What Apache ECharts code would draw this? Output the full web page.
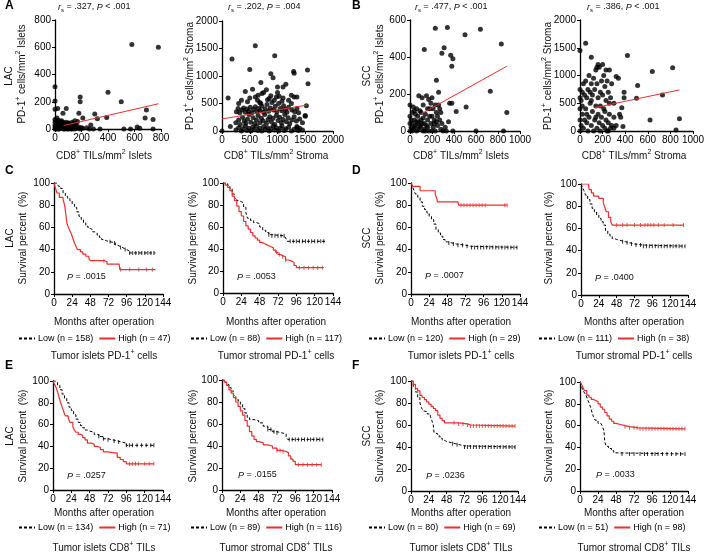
<!DOCTYPE html>
<html><head><meta charset="utf-8">
<script src="https://cdn.jsdelivr.net/npm/echarts@6/dist/echarts.min.js"></script>
<style>html,body{margin:0;padding:0;background:#fff}#c{width:709px;height:553px}</style>
</head><body><div id="c"></div>
<script>
// ---------------- DATA ----------------
// Row 1 scatter plots
const A1_points = [[0,0],[5,10],[10,20],[15,5],[20,30],[25,0],[30,15],[35,40],[40,10],[45,25],[50,5],[55,50],[60,20],[65,0],[70,35],[75,10],[80,25],[85,5],[90,40],[95,15],[100,0],[105,30],[110,10],[115,20],[120,0],[125,35],[130,15],[135,5],[140,25],[145,10],[150,0],[155,20],[160,10],[170,5],[180,15],[190,0],[200,10],[210,5],[0,30],[0,50],[0,70],[5,60],[10,40],[15,80],[20,55],[25,65],[30,45],[40,55],[50,60],[60,45],[70,15],[80,50],[90,20],[100,45],[110,40],[120,25],[130,50],[0,15],[10,0],[20,10],[30,0],[40,30],[50,25],[60,5],[70,0],[80,10],[90,0],[100,15],[110,5],[120,10],[130,0],[140,40],[150,30],[160,35],[0,310],[0,205],[0,145],[20,150],[85,150],[60,115],[180,115],[190,235],[190,200],[210,80],[150,60],[170,55],[270,30],[300,110],[320,75],[400,270],[390,85],[500,200],[580,620],[780,600],[690,140],[680,80],[740,70],[290,0],[340,0],[520,0],[570,0],[620,15],[640,5],[740,0],[240,10],[260,0]];
const A1_fit = [[65,25],[780,185]];
const A2_points = [[0,0],[150,80],[250,20],[300,60],[350,0],[380,40],[420,90],[450,10],[480,50],[520,0],[550,70],[580,30],[620,90],[650,10],[680,50],[720,0],[750,80],[780,30],[820,60],[850,0],[880,40],[920,90],[950,20],[980,60],[1020,0],[1050,50],[1080,90],[1120,10],[1150,40],[1200,70],[1250,0],[1300,30],[1350,60],[1380,10],[1450,20],[250,150],[300,200],[330,120],[370,250],[400,180],[430,140],[460,220],[490,300],[520,160],[560,240],[590,130],[620,200],[650,280],[680,150],[710,230],[740,180],[770,300],[800,140],[830,210],[860,260],[890,170],[920,230],[950,120],[980,280],[1010,190],[1040,250],[1070,150],[1100,210],[1130,300],[1160,170],[1190,240],[1220,130],[1260,200],[1300,260],[1340,180],[1400,220],[1450,150],[1500,270],[260,350],[290,410],[320,330],[360,380],[390,420],[420,340],[450,400],[480,360],[510,430],[540,330],[570,390],[600,440],[630,350],[660,410],[690,370],[720,450],[750,340],[780,400],[810,480],[840,360],[870,420],[900,520],[930,380],[960,450],[990,350],[1020,500],[1050,410],[1080,370],[1110,460],[1140,390],[1170,340],[1200,430],[1260,380],[1310,350],[1350,410],[1380,330],[1520,460],[1500,280],[300,500],[350,560],[420,720],[460,530],[500,600],[550,760],[600,620],[640,560],[680,520],[720,680],[750,700],[800,750],[850,590],[880,640],[940,560],[980,620],[1030,630],[1080,540],[1100,800],[1150,850],[1000,800],[1200,560],[1250,650],[1300,620],[1350,620],[110,600],[700,880],[880,1040],[920,970],[500,1120],[180,1310],[600,1550],[950,1370],[1290,1080],[1300,1050],[1540,1110],[1550,860],[1250,500],[1100,600],[650,650],[820,570],[1000,700],[700,500],[1350,80],[1400,50]];
const A2_fit = [[0,220],[1530,470]];
const B1_points = [[0,0],[10,20],[20,40],[30,10],[40,60],[50,30],[60,0],[70,80],[80,50],[90,20],[100,100],[110,40],[120,70],[130,10],[140,90],[150,30],[160,60],[170,0],[180,120],[190,40],[200,80],[210,20],[220,60],[230,0],[240,100],[250,30],[260,140],[270,60],[280,10],[290,40],[300,0],[0,80],[0,140],[10,60],[20,100],[30,130],[40,20],[50,90],[60,120],[70,40],[80,190],[90,110],[100,60],[110,180],[120,140],[130,40],[140,0],[150,190],[160,120],[170,170],[180,80],[190,150],[200,180],[210,120],[220,40],[230,140],[250,80],[270,120],[0,40],[20,0],[40,110],[60,50],[80,10],[100,30],[120,0],[160,20],[200,0],[240,50],[280,100],[320,20],[350,50],[360,150],[330,0],[130,440],[230,555],[340,560],[500,520],[640,550],[310,450],[290,420],[370,410],[390,390],[380,350],[830,470],[730,215],[880,100],[510,130],[420,105],[380,150],[240,275],[260,210],[600,0],[850,0],[390,0]];
const B1_fit = [[106,94],[880,350]];
const B2_points = [[0,0],[10,100],[20,300],[30,50],[40,200],[50,400],[60,150],[70,0],[80,250],[90,500],[100,100],[110,350],[120,0],[130,200],[140,450],[150,50],[160,300],[170,150],[180,0],[190,250],[200,100],[210,400],[220,50],[230,200],[240,0],[250,150],[260,300],[280,100],[300,50],[0,400],[0,600],[0,750],[10,550],[20,700],[30,850],[40,650],[50,900],[60,600],[70,750],[80,1000],[90,700],[100,850],[110,650],[120,950],[130,750],[140,1100],[150,850],[160,600],[170,1150],[180,700],[190,900],[200,650],[210,1000],[220,800],[230,550],[240,900],[250,700],[260,1100],[270,600],[280,850],[300,500],[320,980],[340,950],[350,300],[360,250],[370,420],[380,80],[390,600],[390,700],[0,1450],[50,1580],[100,1330],[200,1200],[160,1200],[420,1360],[820,1140],[640,1070],[510,820],[730,650],[500,590],[620,200],[850,20],[880,220],[150,1150],[230,1100],[0,200],[20,450],[60,300],[100,550],[140,250],[180,450],[220,350],[260,500],[300,250],[320,100],[250,0],[270,50]];
const B2_fit = [[130,420],[880,740]];

// Kaplan-Meier curves [months, survival %]
const C1_low = [[0,100],[4,99],[6,97],[9,95],[12,91],[15,88],[18,86],[21,84],[24,81],[27,78],[30,74],[33,70],[36,67],[39,64],[42,61],[45,59],[48,58],[51,56],[54,55],[57,53],[60,51],[63,49],[66,48],[69,47],[75,46],[81,44],[84,43],[87,42],[90,41],[93,40],[96,39],[99,37],[134,37]];
const C1_high = [[0,100],[2,95],[4,91],[7,87],[12,85],[14,80],[15,75],[16,70],[17,64],[19,60],[21,57],[23,54],[25,50],[27,46],[29,43],[31,40],[35,38],[38,36],[42,34],[46,32],[48,30],[64,30],[67,29],[70,27],[86,27],[87,22],[134,22]];
const C2_low = [[0,100],[6,98],[9,95],[12,90],[15,86],[18,84],[21,83],[24,82],[27,78],[30,73],[32,68],[36,66],[40,64],[44,63],[48,60],[52,57],[56,55],[60,53],[64,52],[80,52],[82,50],[84,47],[134,47]];
const C2_high = [[0,100],[3,98],[6,96],[9,93],[12,88],[15,84],[18,79],[21,74],[24,70],[27,65],[30,61],[33,58],[36,55],[39,52],[42,50],[45,48],[48,46],[51,45],[54,44],[57,43],[60,42],[63,41],[66,39],[69,37],[72,35],[75,34],[78,33],[82,30],[86,29],[90,28],[93,25],[96,23],[132,23]];
const D1_low = [[0,100],[2,97],[4,93],[6,90],[9,87],[12,83],[15,79],[18,76],[21,73],[24,70],[27,67],[30,63],[33,58],[36,55],[39,52],[42,49],[45,47],[48,46],[54,45],[60,44],[72,43],[78,42],[140,42]];
const D1_high = [[0,100],[2,97],[12,93],[32,90],[34,86],[35,83],[62,83],[63,80],[127,80]];
const D2_low = [[0,100],[2,97],[4,94],[6,90],[9,86],[12,82],[15,78],[18,75],[21,72],[24,69],[27,66],[30,63],[33,58],[36,55],[39,53],[42,51],[45,50],[48,49],[54,48],[60,47],[66,46],[72,45],[84,44],[140,44]];
const D2_high = [[0,100],[10,100],[11,95],[14,92],[17,89],[24,87],[30,83],[32,79],[34,75],[37,70],[40,66],[42,63],[138,63]];
const E1_low = [[0,100],[3,99],[6,96],[9,92],[12,88],[15,84],[18,80],[21,76],[24,73],[27,69],[30,65],[33,62],[36,59],[39,57],[42,55],[45,54],[48,53],[54,51],[60,49],[66,47],[72,46],[78,45],[84,44],[90,43],[96,41],[132,41]];
const E1_high = [[0,100],[2,97],[4,94],[6,90],[8,85],[10,80],[12,76],[14,72],[16,68],[20,66],[22,62],[26,58],[28,55],[30,53],[33,51],[36,50],[39,48],[42,46],[45,43],[50,42],[54,40],[58,39],[62,37],[66,35],[72,34],[80,34],[84,30],[88,28],[92,26],[96,24],[132,24]];
const E2_low = [[0,100],[3,98],[6,96],[9,93],[12,90],[15,86],[18,83],[21,81],[24,78],[27,74],[30,70],[33,66],[36,64],[42,63],[48,61],[54,58],[60,55],[66,53],[72,52],[78,51],[84,48],[86,46],[132,46]];
const E2_high = [[0,100],[3,98],[6,95],[9,91],[12,88],[15,84],[18,80],[21,76],[24,72],[27,68],[30,63],[33,58],[36,53],[39,49],[42,46],[45,44],[48,43],[54,41],[60,40],[66,38],[72,36],[78,35],[84,34],[87,31],[90,28],[93,26],[96,23],[130,23]];
const F1_low = [[0,100],[3,95],[6,90],[9,85],[12,80],[14,76],[16,73],[18,72],[22,70],[26,68],[28,64],[30,60],[31,53],[33,52],[36,50],[39,48],[42,46],[45,45],[48,44],[54,43],[60,42],[66,41],[72,40],[140,40]];
const F1_high = [[0,100],[3,97],[6,93],[9,91],[12,87],[15,85],[18,83],[21,81],[24,79],[27,77],[30,75],[33,73],[36,69],[39,66],[42,64],[45,62],[60,62],[64,61],[76,60],[80,59],[140,59]];
const F2_low = [[0,100],[2,96],[4,92],[6,90],[8,88],[10,84],[12,81],[14,77],[16,72],[18,68],[20,65],[24,62],[28,61],[30,59],[32,55],[33,45],[35,41],[38,39],[42,37],[45,35],[48,34],[140,34]];
const F2_high = [[0,100],[2,98],[4,95],[6,92],[9,88],[12,86],[15,84],[18,83],[21,82],[24,80],[27,77],[30,75],[33,72],[36,69],[39,66],[42,64],[45,62],[48,61],[54,60],[60,59],[66,58],[78,57],[140,57]];
// censoring times (months)
const C1_lowC = [74,80,88,94,100,104,108,112,116,120,124,128,132];
const C1_highC = [66,88,100,112,122,130];
const C2_lowC = [60,64,68,72,76,80,88,92,96,100,104,108,112,116,120,124,128,132];
const C2_highC = [70,74,78,82,100,106,112,118,124,130];
const D1_lowC = [50,56,62,68,74,80,84,88,92,96,100,104,108,112,116,120,124,128,132,136,140];
const D1_highC = [66,70,74,78,82,86,90,94,98,124,127];
const D2_lowC = [56,62,68,74,80,84,88,92,96,100,104,108,112,116,120,124,128,132,136,140];
const D2_highC = [48,56,62,72,80,86,90,94,98,104,112,124,138];
const E1_lowC = [60,66,72,80,86,96,100,104,110,116,122,128,132];
const E1_highC = [100,104,108,112,120,126,132];
const E2_lowC = [60,64,68,72,88,92,96,100,104,108,112,116,120,124,128,132];
const E2_highC = [72,76,80,100,106,112,118,124,130];
const F1_lowC = [56,62,72,76,80,84,88,92,96,100,104,108,112,116,120,124,128,132,136,140];
const F1_highC = [58,64,70,76,80,84,88,92,96,100,104,108,112,116,120,124,128,132,136,140];
const F2_lowC = [56,66,72,80,86,90,96,100,104,110,116,122,128,134,140];
const F2_highC = [60,66,72,76,80,84,88,92,96,100,104,108,112,116,120,124,128,132,136,140];

const lowN = [158,88,120,111,134,89,80,51];
const highN = [47,117,29,38,71,116,69,98];
const pValues = ['.0015','.0053','.0007','.0400','.0257','.0155','.0236','.0033'];
const corrStats = [['.327','<','.001'],['.202','=','.004'],['.477','<','.001'],['.386','<','.001']];
const kmTicks = {min:0, max:144, interval:24};
const survTicks = {min:0, max:100, interval:20};

// ---------------- LAYOUT ----------------
const FONT = '"Liberation Sans", Arial, sans-serif';
const RED = '#e8312f';
const grids = [
 [55,20,106,109],[222,21,111,110],[410,20,110,111],[580,20,113,111],
 [54,183,109,111],[223,183,110,110],[411,183,109,111],[581,184,107,111],
 [53,381,110,109],[222,380,110,110],[411,381,107,110],[580,382,108,109]
];
const scatterAxes = [
 {x:[0,800,200], y:[0,800,200]},
 {x:[0,2000,500], y:[0,2000,500]},
 {x:[0,1000,200], y:[0,600,200]},
 {x:[0,1000,200], y:[0,2000,500]}
];
const scatterSets = [[A1_points,A1_fit],[A2_points,A2_fit],[B1_points,B1_fit],[B2_points,B2_fit]];
const kmSets = [
 [C1_low,C1_high,C1_lowC,C1_highC],[C2_low,C2_high,C2_lowC,C2_highC],
 [D1_low,D1_high,D1_lowC,D1_highC],[D2_low,D2_high,D2_lowC,D2_highC],
 [E1_low,E1_high,E1_lowC,E1_highC],[E2_low,E2_high,E2_lowC,E2_highC],
 [F1_low,F1_high,F1_lowC,F1_highC],[F2_low,F2_high,F2_lowC,F2_highC]
];

function axisBase(gi, min, max, interval){
  return {type:'value', gridIndex:gi, min, max, interval,
    axisLine:{show:true, onZero:false, lineStyle:{color:'#000', width:1.3}},
    axisTick:{show:true, length:3, lineStyle:{color:'#000', width:1}},
    axisLabel:{color:'#000', fontSize:10, fontFamily:FONT, margin:4, formatter:v=>String(v)},
    splitLine:{show:false}};
}
function stepAt(curve, t){ let v = curve[0][1]; for (const p of curve){ if (p[0] <= t) v = p[1]; } return v; }

const xAxes = [], yAxes = [], series = [];
grids.forEach((g,i)=>{
  if (i < 4){
    const a = scatterAxes[i];
    xAxes.push(axisBase(i, a.x[0], a.x[1], a.x[2]));
    yAxes.push(axisBase(i, a.y[0], a.y[1], a.y[2]));
  } else {
    xAxes.push(axisBase(i, kmTicks.min, kmTicks.max, kmTicks.interval));
    yAxes.push(axisBase(i, survTicks.min, survTicks.max, survTicks.interval));
  }
});
scatterSets.forEach(([pts, fit], i)=>{
  series.push({type:'scatter', xAxisIndex:i, yAxisIndex:i, data:pts, symbolSize:5, clip:false, silent:true, itemStyle:{color:'#000'}});
  series.push({type:'line', xAxisIndex:i, yAxisIndex:i, data:fit, symbol:'none', silent:true, lineStyle:{color:RED, width:1}, z:5});
});
const legends = [];
const legendPos = [[18,334],[190,334],[368,334],[538,334],[18,523],[190,523],[368,523],[538,523]];
kmSets.forEach(([low, high, lowC, highC], k)=>{
  const gi = k + 4;
  const lowName = 'Low (n = ' + lowN[k] + ')';
  const highName = 'High (n = ' + highN[k] + ')';
  series.push({name:lowName, type:'line', step:'end', xAxisIndex:gi, yAxisIndex:gi, data:low, symbol:'none', silent:true,
    lineStyle:{color:'#000', width:1, type:[3,2]}, itemStyle:{color:'#000'}});
  series.push({name:highName, type:'line', step:'end', xAxisIndex:gi, yAxisIndex:gi, data:high, symbol:'none', silent:true,
    lineStyle:{color:RED, width:1.2}, itemStyle:{color:RED}});
  series.push({type:'scatter', xAxisIndex:gi, yAxisIndex:gi, data:lowC.map(t=>[t, stepAt(low,t)]), symbol:'rect', symbolSize:[1,4], silent:true, itemStyle:{color:'#000'}});
  series.push({type:'scatter', xAxisIndex:gi, yAxisIndex:gi, data:highC.map(t=>[t, stepAt(high,t)]), symbol:'rect', symbolSize:[1,4], silent:true, itemStyle:{color:RED}});
  legends.push({left:legendPos[k][0], top:legendPos[k][1], data:[lowName, highName], itemWidth:16, itemHeight:8, itemGap:5, padding:0,
    selectedMode:false, itemStyle:{opacity:0, borderWidth:0}, textStyle:{fontSize:9, color:'#000', fontFamily:FONT, padding:[0,0,0,-2]}});
});

// ---------------- TEXT ----------------
const RICH = {
  a:{fontSize:10, fontFamily:FONT, fill:'#111', lineHeight:14},
  s:{fontSize:7, fontFamily:FONT, fill:'#111', lineHeight:8, verticalAlign:'top'},
  i:{fontSize:9, fontFamily:FONT, fill:'#111', fontStyle:'italic', lineHeight:12},
  n:{fontSize:9, fontFamily:FONT, fill:'#111', lineHeight:12},
  b:{fontSize:6, fontFamily:FONT, fill:'#111', lineHeight:6, verticalAlign:'bottom'}
};
const g = [];
function T(x, y, text, o){
  o = o || {};
  g.push({type:'text', x, y, rotation:o.rot||0, silent:true,
    style:{text, rich:RICH, align:o.align||'center', verticalAlign:'middle',
      font:(o.bold?'bold ':'') + (o.size||10) + 'px ' + FONT, fill:'#000'}});
}
const ROT = Math.PI/2;
// panel letters
T(5,6,'A',{bold:true,size:12,align:'left'}); T(352,6,'B',{bold:true,size:12,align:'left'});
T(5,171,'C',{bold:true,size:12,align:'left'}); T(352,171,'D',{bold:true,size:12,align:'left'});
T(5,366,'E',{bold:true,size:12,align:'left'}); T(352,366,'F',{bold:true,size:12,align:'left'});
// correlation stats
const statX = [58,228,415,587];
corrStats.forEach((s,i)=>T(statX[i], 7, '{i|r}{b|s}{n| = '+s[0]+', }{i|P}{n| '+s[1]+' '+s[2]+'}', {align:'left'}));
// row-1 axis titles
const xt = ['Islets','Stroma','Islets','Stroma'];
const xtX = [104,276,461,634];
xt.forEach((w,i)=>T(xtX[i], 156, '{a|CD8}{s|+}{a| TILs/mm}{s|2}{a| '+w+'}'));
T(9,76,'{a|LAC}',{rot:ROT}); T(22,74,'{a|PD-1}{s|+}{a| cells/mm}{s|2}{a| Islets}',{rot:ROT});
T(190,76,'{a|PD-1}{s|+}{a| cells/mm}{s|2}{a| Stroma}',{rot:ROT});
T(367,76,'{a|SCC}',{rot:ROT}); T(380,74,'{a|PD-1}{s|+}{a| cells/mm}{s|2}{a| Islets}',{rot:ROT});
T(548,76,'{a|PD-1}{s|+}{a| cells/mm}{s|2}{a| Stroma}',{rot:ROT});
// KM titles
const kmYT = [238,436];
const colYT = [[10,23],[null,193],[367,380],[null,549]];
[0,1].forEach(r=>{
  colYT.forEach((c,ci)=>{
    if (c[0] !== null) T(c[0], kmYT[r], '{a|'+(ci===0?'LAC':'SCC')+'}', {rot:ROT});
    T(c[1], kmYT[r], '{a|Survival percent  (%)}', {rot:ROT});
  });
});
const colCenter = [104,276,461,634];
const monthsY = [322,513];
const subY = [356,548];
const subs = [['Tumor islets PD-1','Tumor stromal PD-1',' cells'],['Tumor islets CD8','Tumor stromal CD8',' TILs']];
[0,1].forEach(r=>{
  colCenter.forEach((cx,ci)=>{
    T(cx, monthsY[r], '{a|Months after operation}');
    const base = subs[r][ci%2===0?0:1];
    T(cx, subY[r], '{a|'+base+'}{s|+}{a|'+subs[r][2]+'}');
  });
});
const pPos = [[67,277],[237,277],[425,276],[595,278],[67,476],[238,475],[426,476],[596,475]];
pValues.forEach((p,k)=>T(pPos[k][0], pPos[k][1], '{i|P}{n| = '+p+'}', {align:'left'}));

const chart = echarts.init(document.getElementById('c'), null, {renderer:'canvas'});
chart.setOption({
  animation:false,
  backgroundColor:'#fff',
  grid: grids.map(r=>({left:r[0], top:r[1], width:r[2], height:r[3], containLabel:false})),
  xAxis:xAxes, yAxis:yAxes, series, legend:legends, graphic:g
});
</script></body></html>
